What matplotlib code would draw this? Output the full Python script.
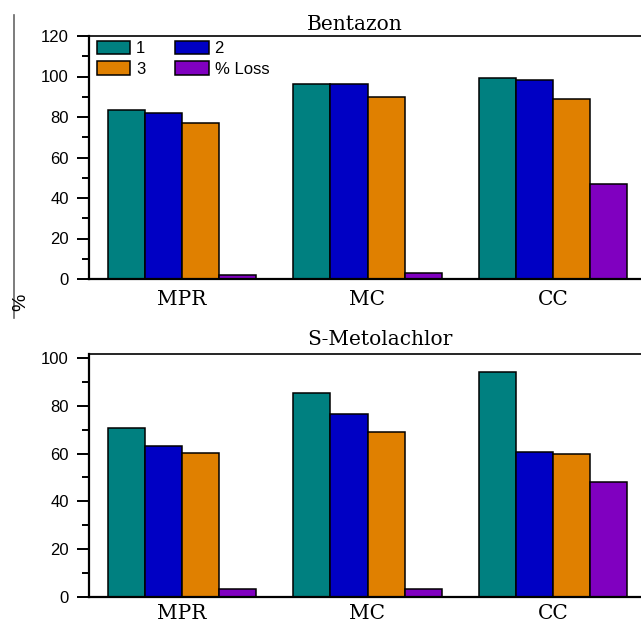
import numpy as np
import matplotlib.pyplot as plt
from matplotlib.ticker import MultipleLocator
from matplotlib.lines import Line2D

# Recovery (%) per sample site, three extractions plus the loss
sites = ['MPR', 'MC', 'CC']
series_names = ['1', '2', '3', '% Loss']
colors = ['#008080', '#0000c4', '#e08000', '#8000c0']

bentazon = {
    '1': [83.5, 96.5, 99.4],
    '2': [82.1, 96.1, 98.3],
    '3': [77.2, 89.9, 88.7],
    '% Loss': [1.8, 2.8, 47.1],
}
metolachlor = {
    '1': [70.6, 85.4, 94.1],
    '2': [63.3, 76.6, 60.5],
    '3': [60.4, 69.2, 59.7],
    '% Loss': [3.1, 3.4, 48.1],
}

W, H = 641, 624
fig = plt.figure(figsize=(W / 100, H / 100), dpi=100)

sans = 'Liberation Sans'
serif = 'DejaVu Serif'


def px_axes(left, top, right, bottom):
    return [left / W, 1 - bottom / H, (right - left) / W, (bottom - top) / H]


def draw_panel(ax, data, ymax, yticks, label_pad):
    x = np.arange(len(sites))
    width = 0.2
    bars = []
    for i, name in enumerate(series_names):
        b = ax.bar(x + (i - 1.5) * width, data[name], width,
                   color=colors[i], edgecolor='black', linewidth=1.1,
                   label=name, zorder=2)
        bars.append(b)
    ax.set_xlim(-0.5, 2.5)
    ax.set_ylim(0, ymax)
    ax.set_xticks(x)
    ax.set_xticklabels(sites, fontfamily=serif, fontsize=14.5)
    ax.tick_params(axis='x', length=0, pad=label_pad)
    ax.set_yticks(yticks)
    ax.yaxis.set_minor_locator(MultipleLocator(10))
    ax.tick_params(axis='y', which='major', length=8.5, width=1.4,
                   direction='out', labelsize=12, pad=6)
    ax.tick_params(axis='y', which='minor', length=5, width=1.4,
                   direction='out')
    for lab in ax.get_yticklabels():
        lab.set_fontfamily(sans)
    ax.spines['right'].set_visible(False)
    ax.spines['left'].set_linewidth(1.6)
    ax.spines['bottom'].set_linewidth(1.6)
    ax.spines['top'].set_linewidth(1.2)
    return bars


ax1 = fig.add_axes(px_axes(89, 36, 646, 279))
bars = draw_panel(ax1, bentazon, 120, np.arange(0, 121, 20), 8)

ax2 = fig.add_axes(px_axes(89, 354, 646, 596.7))
draw_panel(ax2, metolachlor, 101.8, np.arange(0, 101, 20), 5)

# legend: rows "1 2" / "3 % Loss"
order = [0, 2, 1, 3]
ax1.legend([bars[i] for i in order], [series_names[i] for i in order],
           ncol=2, loc='upper left', bbox_to_anchor=(0.0144, 0.98),
           frameon=False, borderpad=0, borderaxespad=0,
           handlelength=2.0, handleheight=0.85, handletextpad=0.35,
           labelspacing=0.3, columnspacing=1.8,
           prop={'family': sans, 'size': 12})

fig.text(307 / W, 1 - 30.5 / H, 'Bentazon', fontfamily=serif, fontsize=14.5,
         ha='left', va='baseline')
fig.text(307 / W, 1 - 345 / H, 'S-Metolachlor', fontfamily=serif,
         fontsize=14.5, ha='left', va='baseline')

# shared y label with its frame line on the left
fig.add_artist(Line2D([13.5 / W, 13.5 / W], [1 - 15 / H, 1 - 318 / H],
                      color='#666666', linewidth=1.2))
fig.text(21 / W, 1 - 302 / H, '%', fontfamily=sans, fontsize=14,
         rotation=90, ha='center', va='center')

fig.savefig('out.png', dpi=100)
